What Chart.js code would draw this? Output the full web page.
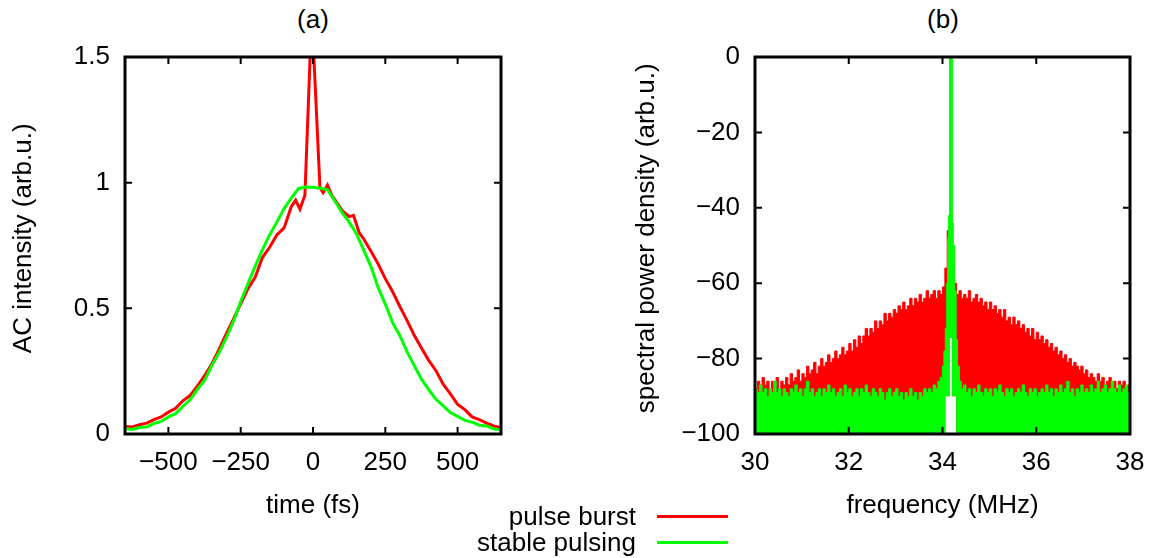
<!DOCTYPE html>
<html lang="en">
<head>
<meta charset="UTF-8">
<title>Pulse burst vs stable pulsing</title>
<script src="https://cdn.jsdelivr.net/npm/chart.js"></script>
<style>
  body { margin: 0; background: #fff; font-family: "Liberation Sans", Arial, sans-serif; color: #000; }
  #wrap { position: relative; width: 1161px; height: 558px; overflow: hidden; }
  canvas { position: absolute; top: 0; }
  .ptitle { position: absolute; top: 4px; width: 100px; text-align: center; font-size: 26px; line-height: 30px; }
  .lg-text { position: absolute; right: 525px; font-size: 26px; line-height: 30px; white-space: nowrap; }
  .lg-line { position: absolute; left: 657px; width: 71px; height: 3px; }
</style>
</head>
<body>
<div id="wrap">
  <div class="ptitle" style="left:263px">(a)</div>
  <div class="ptitle" style="left:893px">(b)</div>
  <canvas id="chartA" width="560" height="558" style="left:0"></canvas>
  <canvas id="chartB" width="538" height="558" style="left:623px"></canvas>
  <div class="lg-text" style="top:501px">pulse burst</div>
  <div class="lg-line" style="top:515px;background:#ff0000"></div>
  <div class="lg-text" style="top:527px">stable pulsing</div>
  <div class="lg-line" style="top:541px;background:#00ff00"></div>
</div>
<script>
// (a) autocorrelation traces
const timeRed = [-650, -625, -600, -575, -550, -525, -500, -475, -450, -425, -400, -375, -350, -325, -300, -275, -250, -225, -200, -175, -150, -125, -100, -88, -75, -60, -45, -28, -10, 3, 24, 35, 50, 65, 80, 100, 125, 140, 160, 175, 200, 225, 250, 275, 300, 325, 350, 375, 400, 425, 450, 475, 500, 525, 550, 575, 600, 625, 650];
const acRed = [0.03, 0.028, 0.037, 0.043, 0.057, 0.068, 0.087, 0.102, 0.132, 0.153, 0.19, 0.232, 0.278, 0.337, 0.398, 0.457, 0.518, 0.578, 0.623, 0.702, 0.743, 0.792, 0.82, 0.86, 0.905, 0.93, 0.895, 0.95, 1.5, 1.5, 0.98, 0.96, 0.99, 0.95, 0.925, 0.89, 0.865, 0.87, 0.80, 0.777, 0.728, 0.677, 0.618, 0.567, 0.508, 0.452, 0.393, 0.342, 0.293, 0.252, 0.198, 0.16, 0.118, 0.097, 0.068, 0.057, 0.043, 0.032, 0.025];
const timeGreen = [-650, -625, -600, -575, -550, -525, -500, -475, -450, -425, -400, -375, -350, -325, -300, -275, -250, -225, -200, -175, -150, -125, -100, -75, -50, -25, 0, 25, 50, 75, 100, 125, 150, 175, 200, 225, 250, 275, 300, 325, 350, 375, 400, 425, 450, 475, 500, 525, 550, 575, 600, 625, 650];
const acGreen = [0.022, 0.018, 0.026, 0.028, 0.042, 0.05, 0.068, 0.081, 0.11, 0.136, 0.177, 0.213, 0.272, 0.323, 0.382, 0.448, 0.527, 0.598, 0.667, 0.733, 0.792, 0.843, 0.897, 0.938, 0.977, 0.983, 0.982, 0.978, 0.972, 0.928, 0.882, 0.843, 0.797, 0.733, 0.667, 0.583, 0.517, 0.443, 0.392, 0.328, 0.272, 0.218, 0.177, 0.138, 0.112, 0.085, 0.07, 0.054, 0.047, 0.035, 0.032, 0.02, 0.017];
const timeTicks = [-500, -250, 0, 250, 500];
const acTicks = [0, 0.5, 1, 1.5];

// (b) RF spectra
const freqRed = [30.00, 30.05, 30.10, 30.15, 30.20, 30.25, 30.30, 30.35, 30.40, 30.45, 30.50, 30.55, 30.60, 30.65, 30.70, 30.75, 30.80, 30.85, 30.90, 30.95,
  31.00, 31.05, 31.10, 31.15, 31.20, 31.25, 31.30, 31.35, 31.40, 31.45, 31.50, 31.55, 31.60, 31.65, 31.70, 31.75, 31.80, 31.85, 31.90, 31.95,
  32.00, 32.05, 32.10, 32.15, 32.20, 32.25, 32.30, 32.35, 32.40, 32.45, 32.50, 32.55, 32.60, 32.65, 32.70, 32.75, 32.80, 32.85, 32.90, 32.95,
  33.00, 33.05, 33.10, 33.15, 33.20, 33.25, 33.30, 33.35, 33.40, 33.45, 33.50, 33.55, 33.60, 33.65, 33.70, 33.75, 33.80, 33.85, 33.90, 33.95,
  34.00, 34.05, 34.10, 34.15, 34.20, 34.25, 34.30, 34.35, 34.40, 34.45, 34.50, 34.55, 34.60, 34.65, 34.70, 34.75, 34.80, 34.85, 34.90, 34.95,
  35.00, 35.05, 35.10, 35.15, 35.20, 35.25, 35.30, 35.35, 35.40, 35.45, 35.50, 35.55, 35.60, 35.65, 35.70, 35.75, 35.80, 35.85, 35.90, 35.95,
  36.00, 36.05, 36.10, 36.15, 36.20, 36.25, 36.30, 36.35, 36.40, 36.45, 36.50, 36.55, 36.60, 36.65, 36.70, 36.75, 36.80, 36.85, 36.90, 36.95,
  37.00, 37.05, 37.10, 37.15, 37.20, 37.25, 37.30, 37.35, 37.40, 37.45, 37.50, 37.55, 37.60, 37.65, 37.70, 37.75, 37.80, 37.85, 37.90, 37.95, 38.00];
const psdRed = [-88, -86, -87, -85, -87, -86, -88, -86, -87, -85, -88, -86, -87, -85, -87, -84, -86, -85, -83, -86,
  -84, -85, -82, -84, -83, -81, -84, -82, -80, -82, -81, -79, -81, -80, -78, -80, -79, -77, -79, -78,
  -76, -78, -75, -77, -74, -76, -74, -72, -74, -72, -73, -70, -72, -70, -71, -68, -70, -68, -69, -67,
  -68, -66, -67, -65, -67, -66, -64, -66, -64, -65, -63, -65, -64, -62, -64, -63, -62, -64, -62, -63,
  -61, -56, -46, -50, -56, -60, -63, -62, -64, -63, -64, -62, -65, -64, -63, -65, -64, -66, -65, -67,
  -65, -67, -66, -68, -67, -69, -67, -70, -69, -71, -69, -71, -70, -72, -71, -73, -72, -74, -72, -75,
  -73, -75, -74, -76, -75, -77, -76, -78, -77, -79, -78, -80, -79, -81, -80, -82, -81, -82, -83, -82,
  -84, -83, -85, -84, -85, -86, -84, -86, -85, -87, -86, -85, -87, -86, -88, -86, -87, -86, -88, -87, -87];
const freqGreen = [30.00, 30.05, 30.10, 30.15, 30.20, 30.25, 30.30, 30.35, 30.40, 30.45, 30.50, 30.55, 30.60, 30.65, 30.70, 30.75, 30.80, 30.85, 30.90, 30.95,
  31.00, 31.05, 31.10, 31.15, 31.20, 31.25, 31.30, 31.35, 31.40, 31.45, 31.50, 31.55, 31.60, 31.65, 31.70, 31.75, 31.80, 31.85, 31.90, 31.95,
  32.00, 32.05, 32.10, 32.15, 32.20, 32.25, 32.30, 32.35, 32.40, 32.45, 32.50, 32.55, 32.60, 32.65, 32.70, 32.75, 32.80, 32.85, 32.90, 32.95,
  33.00, 33.05, 33.10, 33.15, 33.20, 33.25, 33.30, 33.35, 33.40, 33.45, 33.50, 33.55, 33.60, 33.65, 33.70, 33.75, 33.80, 33.85, 33.90, 33.95,
  34.00, 34.03, 34.06, 34.09, 34.11, 34.13, 34.15, 34.19, 34.21, 34.23, 34.26, 34.29, 34.32, 34.36, 34.40, 34.45, 34.50, 34.55, 34.60, 34.65,
  34.70, 34.75, 34.80, 34.85, 34.90, 34.95, 35.00, 35.05, 35.10, 35.15, 35.20, 35.25, 35.30, 35.35, 35.40, 35.45, 35.50, 35.55, 35.60, 35.65,
  35.70, 35.75, 35.80, 35.85, 35.90, 35.95, 36.00, 36.05, 36.10, 36.15, 36.20, 36.25, 36.30, 36.35, 36.40, 36.45, 36.50, 36.55, 36.60, 36.65,
  36.70, 36.75, 36.80, 36.85, 36.90, 36.95, 37.00, 37.05, 37.10, 37.15, 37.20, 37.25, 37.30, 37.35, 37.40, 37.45, 37.50, 37.55, 37.60, 37.65,
  37.70, 37.75, 37.80, 37.85, 37.90, 37.95, 38.00];
const psdGreen = [-88, -89, -87, -89, -88, -90, -88, -89, -86, -89, -88, -90, -88, -89, -90, -88, -89, -87, -89, -88,
  -90, -88, -86, -89, -88, -90, -89, -88, -90, -88, -89, -87, -89, -88, -90, -89, -88, -90, -87, -89,
  -88, -90, -89, -88, -90, -88, -89, -87, -89, -90, -88, -89, -90, -88, -89, -91, -89, -88, -90, -89,
  -88, -90, -89, -91, -89, -90, -88, -90, -89, -91, -89, -90, -88, -89, -88, -89, -87, -88, -86, -85,
  -82, -78, -72, -60, -48, -42, 0, 0, -44, -50, -62, -75, -82, -86, -88, -87, -89, -88, -90, -88,
  -89, -87, -89, -90, -88, -89, -88, -90, -88, -89, -87, -89, -90, -88, -89, -88, -90, -89, -88, -89,
  -87, -89, -90, -88, -89, -88, -90, -89, -88, -89, -87, -89, -88, -90, -88, -89, -87, -89, -88, -86,
  -89, -88, -90, -88, -89, -87, -89, -88, -89, -87, -89, -88, -86, -89, -88, -87, -89, -88, -86, -88,
  -89, -87, -89, -88, -87, -89, -88];
// lower edge of the filled spectra (white notch under the carrier)
const freqFloor = [30, 34.06, 34.06, 34.15, 34.15, 34.2, 34.2, 34.29, 34.29, 38];
const psdFloor = [-100, -100, -90, -90, -74.5, -74.5, -90, -90, -100, -100];
const freqTicks = [30, 32, 34, 36, 38];
const psdTicks = [0, -20, -40, -60, -80, -100];

const RED = '#ff0000';
const GREEN = '#00ff00';
const FONT = { family: '"Liberation Sans", Arial, sans-serif', size: 26 };

const pts = (xs, ys) => xs.map((x, i) => ({ x: x, y: ys[i] }));
const fmt = v => String(v).replace('-', '\u2212');

// gnuplot style frame with inward ticks on all four sides
const framePlugin = {
  id: 'frame',
  afterDatasetsDraw(chart) {
    const { ctx, chartArea: a, scales } = chart;
    const len = 7;
    ctx.save();
    ctx.strokeStyle = '#000';
    ctx.lineWidth = 2;
    ctx.beginPath();
    scales.x.ticks.forEach(t => {
      const px = scales.x.getPixelForValue(t.value);
      ctx.moveTo(px, a.bottom); ctx.lineTo(px, a.bottom - len);
      ctx.moveTo(px, a.top); ctx.lineTo(px, a.top + len);
    });
    scales.y.ticks.forEach(t => {
      const py = scales.y.getPixelForValue(t.value);
      ctx.moveTo(a.left, py); ctx.lineTo(a.left + len, py);
      ctx.moveTo(a.right, py); ctx.lineTo(a.right - len, py);
    });
    ctx.stroke();
    ctx.lineWidth = 3;
    ctx.strokeRect(a.left, a.top, a.right - a.left, a.bottom - a.top);
    ctx.restore();
  }
};

function axis(min, max, ticks, title, isX, fitSize) {
  return {
    type: 'linear',
    min: min,
    max: max,
    afterBuildTicks: s => { s.ticks = ticks.map(v => ({ value: v })); },
    afterFit: s => { if (isX) s.height = fitSize; else s.width = fitSize; },
    grid: { display: false, drawTicks: false },
    border: { display: false },
    ticks: { color: '#000', font: FONT, padding: isX ? 13 : 15, callback: v => fmt(v), maxRotation: 0, autoSkip: false },
    title: { display: true, text: title, color: '#000', font: FONT,
             padding: isX ? { top: 0, bottom: 1 } : { top: 8, bottom: 0 } }
  };
}

const common = {
  responsive: false,
  animation: false,
  events: [],
  plugins: { legend: { display: false }, tooltip: { enabled: false } },
  elements: { point: { radius: 0 }, line: { tension: 0 } }
};

new Chart(document.getElementById('chartA'), {
  type: 'line',
  data: {
    datasets: [
      { label: 'pulse burst', data: pts(timeRed, acRed), borderColor: RED, borderWidth: 3, fill: false, order: 1 },
      { label: 'stable pulsing', data: pts(timeGreen, acGreen), borderColor: GREEN, borderWidth: 3, fill: false, order: 0 }
    ]
  },
  options: Object.assign({}, common, {
    layout: { padding: { left: 0, top: 57, right: 59, bottom: 36 } },
    scales: {
      x: axis(-650, 650, timeTicks, 'time (fs)', true, 88),
      // leading spaces lift the rotated title a little, as in the original figure
      y: axis(0, 1.5, acTicks, '  AC intensity (arb.u.)', false, 125)
    }
  }),
  plugins: [framePlugin]
});

new Chart(document.getElementById('chartB'), {
  type: 'line',
  data: {
    datasets: [
      { label: 'pulse burst', data: pts(freqRed, psdRed), borderColor: RED, backgroundColor: RED, borderWidth: 1, stepped: true, fill: 2, order: 1 },
      { label: 'stable pulsing', data: pts(freqGreen, psdGreen), borderColor: GREEN, backgroundColor: GREEN, borderWidth: 1, stepped: true, fill: 2, order: 0 },
      { label: 'floor', data: pts(freqFloor, psdFloor), borderColor: 'rgba(0,0,0,0)', borderWidth: 0, fill: false, order: 2 }
    ]
  },
  options: Object.assign({}, common, {
    layout: { padding: { left: 0, top: 57, right: 31, bottom: 36 } },
    scales: {
      x: axis(30, 38, freqTicks, 'frequency (MHz)', true, 88),
      y: axis(-100, 0, psdTicks, '  spectral power density (arb.u.)', false, 132)
    }
  }),
  plugins: [framePlugin]
});
</script>
</body>
</html>
